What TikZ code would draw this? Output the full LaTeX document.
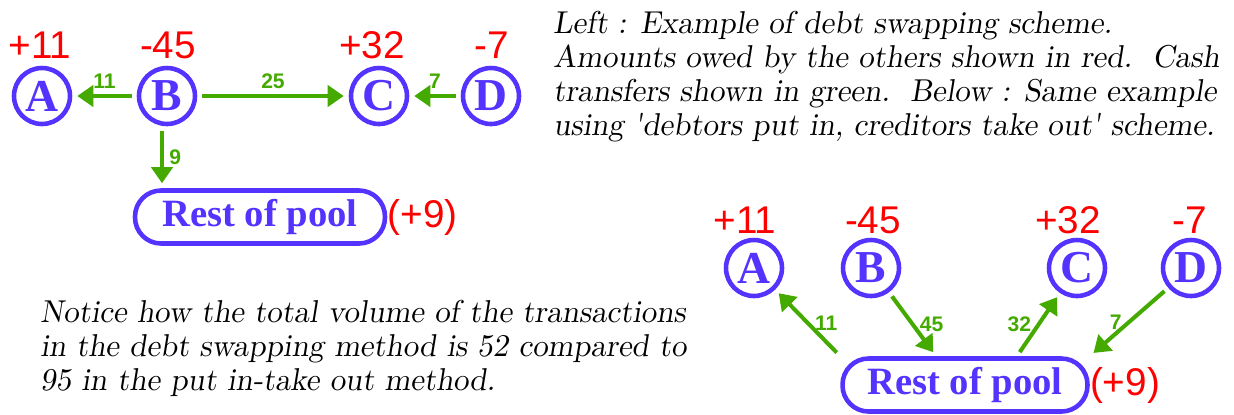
\documentclass[tikz,border=0pt]{standalone}
\usepackage{fontspec}
\usepackage{tikz}
\usetikzlibrary{arrows.meta, positioning, calc}
\newfontfamily\numfont{Liberation Sans}
\newfontfamily\letterfont{Liberation Serif}
\newfontfamily\notefont[FakeStretch=0.975]{lmromanslant10-regular.otf}
\definecolor{poolblue}{RGB}{85,51,255}
\definecolor{owedred}{RGB}{255,0,0}
\definecolor{cashgreen}{RGB}{68,170,0}

\begin{document}
\begin{tikzpicture}[
  x=0.02cm, y=-0.02cm,
  party/.style={circle, draw=poolblue, line width=2.6pt, inner sep=0pt,
    minimum size=1.12cm, text=poolblue, font=\letterfont\fontsize{26}{26}\selectfont\bfseries},
  pool/.style={draw=poolblue, line width=2.6pt, rounded corners=0.52cm,
    minimum height=1.06cm, text=poolblue, font=\letterfont\fontsize{22}{22}\selectfont\bfseries},
  owed/.style={text=owedred, inner sep=0pt, anchor=base, font=\numfont\fontsize{22}{22}\selectfont},
  cash/.style={-{Triangle[length=0.32cm, width=0.42cm]}, line width=2.3pt, draw=cashgreen,
    shorten >=0.1cm, shorten <=0.1cm},
  amt/.style={text=cashgreen, inner sep=3pt, font=\numfont\fontsize{12}{12}\selectfont\bfseries},
  note/.style={align=left, inner sep=0pt, anchor=base west,
    font=\notefont\fontsize{18}{19.35}\selectfont}
]
  \useasboundingbox (0,0) rectangle (1234,414);
  % debt swapping
  \node[party] (lA) at (42,96) {A};
  \node[party] (lB) at (167,96) {B};
  \node[party] (lC) at (379,96) {C};
  \node[party] (lD) at (491,96) {D};
  \node[pool, minimum width=5cm] (lpool) at (260,217) {Rest of pool};
  \node[owed] (lAo) at (40,58) {+11};
  \node[owed] (lBo) at (168,58) {-45};
  \node[owed] (lCo) at (372,58) {+32};
  \node[owed] (lDo) at (492,58) {-7};
  \node[owed, anchor=west] (lpoolo) at (lpool.east) {(+9)};
  \draw[cash] (lB) -- node[amt, above] {11} (lA);
  \draw[cash] (lB) -- node[amt, above] {25} (lC);
  \draw[cash] (lD) -- node[amt, above] {7} (lC);
  \draw[cash] ([xshift=-0.1cm]lB.south) -- node[amt, right] {9} ([xshift=-0.1cm]lB.south |- lpool.north);
  % put in, take out
  \node[party] (rA) at (754,268) {A};
  \node[party] (rB) at (871,268) {B};
  \node[party] (rC) at (1077,268) {C};
  \node[party] (rD) at (1191,268) {D};
  \node[pool, minimum width=4.9cm] (rpool) at (965,385) {Rest of pool};
  \node[owed] (rAo) at (745,233) {+11};
  \node[owed] (rBo) at (873,233) {-45};
  \node[owed] (rCo) at (1068,233) {+32};
  \node[owed] (rDo) at (1190,233) {-7};
  \node[owed, anchor=west] (rpoolo) at (rpool.east) {(+9)};
  \draw[cash] (rpool.north west) -- node[amt, right] {11} (rA);
  \draw[cash] (rB) -- node[amt, right] {45} (rpool.135);
  \draw[cash] (rpool.29) -- node[amt, left] {32} (rC);
  \draw[cash] (rD) -- node[amt, left] {7} (rpool.north east);
  % texts
  \node[note] (top) at (553,135) {Left : Example of debt swapping scheme.\\
    Amounts owed by the others shown in red.\ \ Cash\\
    transfers shown in green.\ \ Below : Same example\\
    using 'debtors put in, creditors take out' scheme.};
  \node[note] (bottom) at (40,390) {Notice how the total volume of the transactions\\
    in the debt swapping method is 52 compared to\\
    95 in the put in-take out method.};
\end{tikzpicture}
\end{document}
